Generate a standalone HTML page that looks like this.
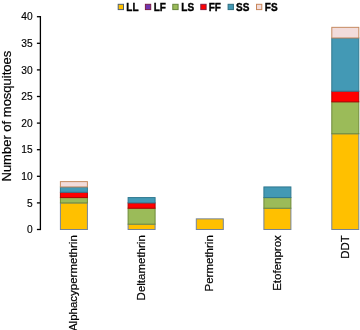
<!DOCTYPE html>
<html><head><meta charset="utf-8"><style>
html,body{margin:0;padding:0;background:#fff;width:360px;height:330px;overflow:hidden}
svg{display:block;will-change:transform;font-family:"Liberation Sans",sans-serif}
</style></head><body>
<svg width="360" height="330" viewBox="0 0 360 330" fill="#000">
<rect x="60.40" y="202.90" width="27" height="26.60" fill="#FFC000" stroke="#74849A" stroke-width="1"/>
<rect x="60.40" y="197.58" width="27" height="5.32" fill="#9BBB59" stroke="#6E8A3A" stroke-width="1"/>
<rect x="60.40" y="192.26" width="27" height="5.32" fill="#FF0000" stroke="#B00000" stroke-width="1"/>
<rect x="60.40" y="186.94" width="27" height="5.32" fill="#4399B5" stroke="#2F7890" stroke-width="1"/>
<rect x="60.40" y="181.62" width="27" height="5.32" fill="#F2DCDB" stroke="#C68B62" stroke-width="1"/>
<rect x="128.10" y="224.18" width="27" height="5.32" fill="#FFC000" stroke="#74849A" stroke-width="1"/>
<rect x="128.10" y="208.22" width="27" height="15.96" fill="#9BBB59" stroke="#6E8A3A" stroke-width="1"/>
<rect x="128.10" y="202.90" width="27" height="5.32" fill="#FF0000" stroke="#B00000" stroke-width="1"/>
<rect x="128.10" y="197.58" width="27" height="5.32" fill="#4399B5" stroke="#2F7890" stroke-width="1"/>
<rect x="196.30" y="218.86" width="27" height="10.64" fill="#FFC000" stroke="#74849A" stroke-width="1"/>
<rect x="263.90" y="208.22" width="27" height="21.28" fill="#FFC000" stroke="#74849A" stroke-width="1"/>
<rect x="263.90" y="197.58" width="27" height="10.64" fill="#9BBB59" stroke="#6E8A3A" stroke-width="1"/>
<rect x="263.90" y="186.94" width="27" height="10.64" fill="#4399B5" stroke="#2F7890" stroke-width="1"/>
<rect x="331.80" y="133.74" width="27" height="95.76" fill="#FFC000" stroke="#74849A" stroke-width="1"/>
<rect x="331.80" y="101.82" width="27" height="31.92" fill="#9BBB59" stroke="#6E8A3A" stroke-width="1"/>
<rect x="331.80" y="91.18" width="27" height="10.64" fill="#FF0000" stroke="#B00000" stroke-width="1"/>
<rect x="331.80" y="37.98" width="27" height="53.20" fill="#4399B5" stroke="#2F7890" stroke-width="1"/>
<rect x="331.80" y="27.34" width="27" height="10.64" fill="#F2DCDB" stroke="#C68B62" stroke-width="1"/>
<line x1="40.4" y1="16.05" x2="40.4" y2="230.10" stroke="#000" stroke-width="1.3"/>
<line x1="36.9" y1="229.50" x2="40.4" y2="229.50" stroke="#000" stroke-width="1.3"/>
<text x="32.6" y="233.20" text-anchor="end" font-size="10.2" stroke="#000" stroke-width="0.15">0</text>
<line x1="36.9" y1="202.90" x2="40.4" y2="202.90" stroke="#000" stroke-width="1.3"/>
<text x="32.6" y="206.60" text-anchor="end" font-size="10.2" stroke="#000" stroke-width="0.15">5</text>
<line x1="36.9" y1="176.30" x2="40.4" y2="176.30" stroke="#000" stroke-width="1.3"/>
<text x="32.6" y="180.00" text-anchor="end" font-size="10.2" stroke="#000" stroke-width="0.15">10</text>
<line x1="36.9" y1="149.70" x2="40.4" y2="149.70" stroke="#000" stroke-width="1.3"/>
<text x="32.6" y="153.40" text-anchor="end" font-size="10.2" stroke="#000" stroke-width="0.15">15</text>
<line x1="36.9" y1="123.10" x2="40.4" y2="123.10" stroke="#000" stroke-width="1.3"/>
<text x="32.6" y="126.80" text-anchor="end" font-size="10.2" stroke="#000" stroke-width="0.15">20</text>
<line x1="36.9" y1="96.50" x2="40.4" y2="96.50" stroke="#000" stroke-width="1.3"/>
<text x="32.6" y="100.20" text-anchor="end" font-size="10.2" stroke="#000" stroke-width="0.15">25</text>
<line x1="36.9" y1="69.90" x2="40.4" y2="69.90" stroke="#000" stroke-width="1.3"/>
<text x="32.6" y="73.60" text-anchor="end" font-size="10.2" stroke="#000" stroke-width="0.15">30</text>
<line x1="36.9" y1="43.30" x2="40.4" y2="43.30" stroke="#000" stroke-width="1.3"/>
<text x="32.6" y="47.00" text-anchor="end" font-size="10.2" stroke="#000" stroke-width="0.15">35</text>
<line x1="36.9" y1="16.70" x2="40.4" y2="16.70" stroke="#000" stroke-width="1.3"/>
<text x="32.6" y="20.40" text-anchor="end" font-size="10.2" stroke="#000" stroke-width="0.15">40</text>
<text transform="translate(11,181.5) rotate(-90)" font-size="13" stroke="#000" stroke-width="0.2">Number of mosquitoes</text>
<text transform="translate(76.90,235.2) rotate(-90)" text-anchor="end" font-size="11.5" stroke="#000" stroke-width="0.2">Alphacypermethrin</text>
<text transform="translate(144.60,235.2) rotate(-90)" text-anchor="end" font-size="11.5" stroke="#000" stroke-width="0.2">Deltamethrin</text>
<text transform="translate(213.20,235.2) rotate(-90)" text-anchor="end" font-size="11.5" stroke="#000" stroke-width="0.2">Permethrin</text>
<text transform="translate(280.90,235.2) rotate(-90)" text-anchor="end" font-size="11.5" stroke="#000" stroke-width="0.2">Etofenprox</text>
<text transform="translate(348.50,235.2) rotate(-90)" text-anchor="end" font-size="11.5" stroke="#000" stroke-width="0.2">DDT</text>
<rect x="118.20" y="4.3" width="5.3" height="5.3" fill="#FFC000" stroke="#4F6070" stroke-width="1"/>
<text x="126.30" y="10.6" font-size="10" font-weight="bold" stroke="#000" stroke-width="0.35">LL</text>
<rect x="145.40" y="4.3" width="5.3" height="5.3" fill="#6F35B0" stroke="#7A1F4A" stroke-width="1"/>
<text x="153.70" y="10.6" font-size="10" font-weight="bold" stroke="#000" stroke-width="0.35">LF</text>
<rect x="172.80" y="4.3" width="5.3" height="5.3" fill="#9BBB59" stroke="#66853A" stroke-width="1"/>
<text x="181.30" y="10.6" font-size="10" font-weight="bold" stroke="#000" stroke-width="0.35">LS</text>
<rect x="200.80" y="4.3" width="5.3" height="5.3" fill="#FF0000" stroke="#8A1A40" stroke-width="1"/>
<text x="208.70" y="10.6" font-size="10" font-weight="bold" stroke="#000" stroke-width="0.35">FF</text>
<rect x="228.10" y="4.3" width="5.3" height="5.3" fill="#4399B5" stroke="#2E6E80" stroke-width="1"/>
<text x="236.10" y="10.6" font-size="10" font-weight="bold" stroke="#000" stroke-width="0.35">SS</text>
<rect x="256.50" y="4.3" width="5.3" height="5.3" fill="#F2DCDB" stroke="#C8875A" stroke-width="1"/>
<text x="264.80" y="10.6" font-size="10" font-weight="bold" stroke="#000" stroke-width="0.35">FS</text>
</svg>
</body></html>
